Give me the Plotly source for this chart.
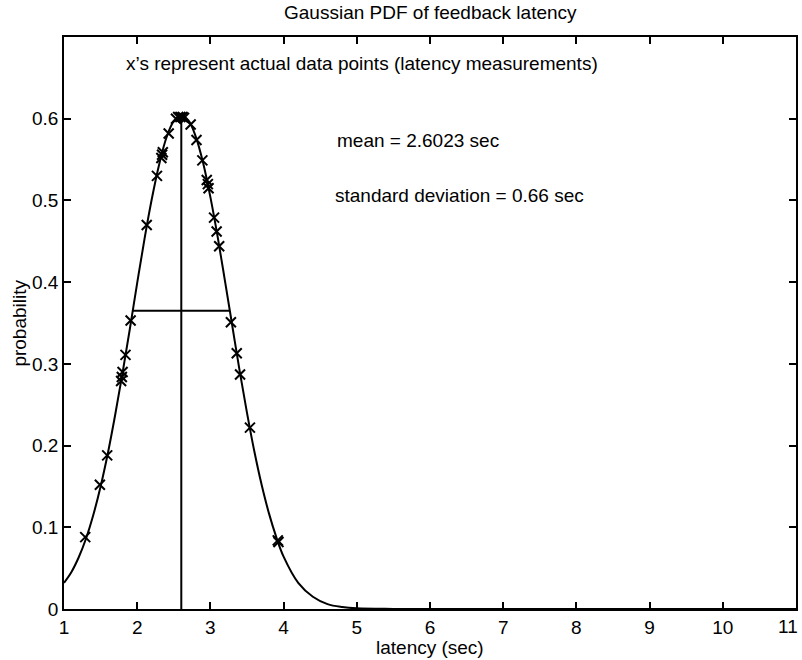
import plotly.graph_objects as go

# Gaussian PDF curve
curve_x = [1.0, 1.1, 1.2, 1.3, 1.4, 1.5, 1.6, 1.7, 1.8, 1.9, 2.0, 2.1, 2.2, 2.3, 2.4, 2.5,
           2.6, 2.7, 2.8, 2.9, 3.0, 3.1, 3.2, 3.3, 3.4, 3.5, 3.6, 3.7, 3.8, 3.9, 4.0,
           4.2, 4.4, 4.6, 4.8, 5.0, 5.5, 6.0, 7.0, 8.0, 9.0, 10.0, 11.0]
curve_y = [0.032, 0.045, 0.063, 0.086, 0.115, 0.150, 0.191, 0.238, 0.289, 0.343, 0.399,
           0.453, 0.502, 0.544, 0.577, 0.597, 0.604, 0.598, 0.578, 0.546, 0.504, 0.455,
           0.401, 0.346, 0.291, 0.240, 0.193, 0.152, 0.117, 0.088, 0.064, 0.032, 0.015,
           0.006, 0.0024, 0.0008, 0.0001, 0.0, 0.0, 0.0, 0.0, 0.0, 0.0]

# measured latencies (x markers)
data_x = [1.29, 1.49, 1.59, 1.78, 1.79, 1.80, 1.84, 1.91, 2.13, 2.27, 2.33, 2.34, 2.35,
          2.43, 2.53, 2.56, 2.59, 2.62, 2.64, 2.73, 2.81, 2.89, 2.95, 2.965, 2.975,
          3.05, 3.085, 3.12, 3.28, 3.36, 3.405, 3.54, 3.92, 3.93]
data_y = [0.088, 0.152, 0.188, 0.279, 0.284, 0.290, 0.311, 0.353, 0.470, 0.530, 0.552,
          0.556, 0.559, 0.582, 0.600, 0.602, 0.602, 0.602, 0.601, 0.593, 0.574, 0.549,
          0.525, 0.520, 0.515, 0.479, 0.462, 0.444, 0.351, 0.313, 0.287, 0.222, 0.084, 0.082]

# mean marker (vertical) and +/- one standard deviation (horizontal)
vline_x = [2.6023, 2.6023]
vline_y = [0.0, 0.604]
hline_x = [1.94, 3.26]
hline_y = [0.365, 0.365]

x_ticks = [1, 2, 3, 4, 5, 6, 7, 8, 9, 10, 11]
x_ticktext = ["1", "2", "3", "4", "5", "6", "7", "8", "9", "10", ""]
last_x_label = "11"
y_ticks = [0, 0.1, 0.2, 0.3, 0.4, 0.5, 0.6]
y_ticktext = ["0", "0.1", "0.2", "0.3", "0.4", "0.5", "0.6"]

FONT = "Liberation Sans, Arial, sans-serif"
FS = 19

fig = go.Figure()
fig.add_trace(go.Scatter(x=curve_x, y=curve_y, mode="lines", line=dict(color="black", width=2, shape="spline"),
                         hoverinfo="skip"))
fig.add_trace(go.Scatter(x=vline_x, y=vline_y, mode="lines", line=dict(color="black", width=2)))
fig.add_trace(go.Scatter(x=hline_x, y=hline_y, mode="lines", line=dict(color="black", width=2)))
fig.add_trace(go.Scatter(x=data_x, y=data_y, mode="markers",
                         marker=dict(symbol="x-thin", size=10, color="black",
                                     line=dict(color="black", width=2))))

axis_common = dict(showgrid=False, zeroline=False, showline=True, linecolor="black", linewidth=1.5,
                   mirror="allticks", ticks="inside", ticklen=7, tickwidth=1.5, tickcolor="black",
                   tickfont=dict(family=FONT, size=FS, color="black"), automargin=False)

fig.update_xaxes(range=[1, 11], tickvals=x_ticks, ticktext=x_ticktext, **axis_common)
fig.update_yaxes(range=[0, 0.7], tickvals=y_ticks, ticktext=y_ticktext, **axis_common)

annots = [
    dict(text="Gaussian PDF of feedback latency", xref="paper", yref="paper", x=0.5, y=1.042,
         xanchor="center", yanchor="middle", showarrow=False),
    dict(text="latency (sec)", xref="paper", yref="paper", x=0.5, y=-0.068,
         xanchor="center", yanchor="middle", showarrow=False),
    dict(text="probability", xref="paper", yref="paper", x=-0.062, y=0.5, textangle=-90,
         xanchor="center", yanchor="middle", showarrow=False),
    dict(text=last_x_label, xref="paper", yref="paper", x=1.0, y=-0.031, xshift=4,
         xanchor="right", yanchor="middle", showarrow=False),
    dict(text="x\u2019s represent actual data points (latency measurements)", xref="x", yref="y",
         x=1.82, y=0.667, xanchor="left", yanchor="middle", showarrow=False),
    dict(text="mean = 2.6023 sec", xref="x", yref="y", x=4.70, y=0.573,
         xanchor="left", yanchor="middle", showarrow=False),
    dict(text="standard deviation = 0.66 sec", xref="x", yref="y", x=4.67, y=0.506,
         xanchor="left", yanchor="middle", showarrow=False),
]
for a in annots:
    a["font"] = dict(family=FONT, size=FS, color="black")

fig.update_layout(width=802, height=660, margin=dict(l=64, r=6, t=37, b=51),
                  plot_bgcolor="white", paper_bgcolor="white", showlegend=False,
                  annotations=annots)

fig.write_html("out.html")
